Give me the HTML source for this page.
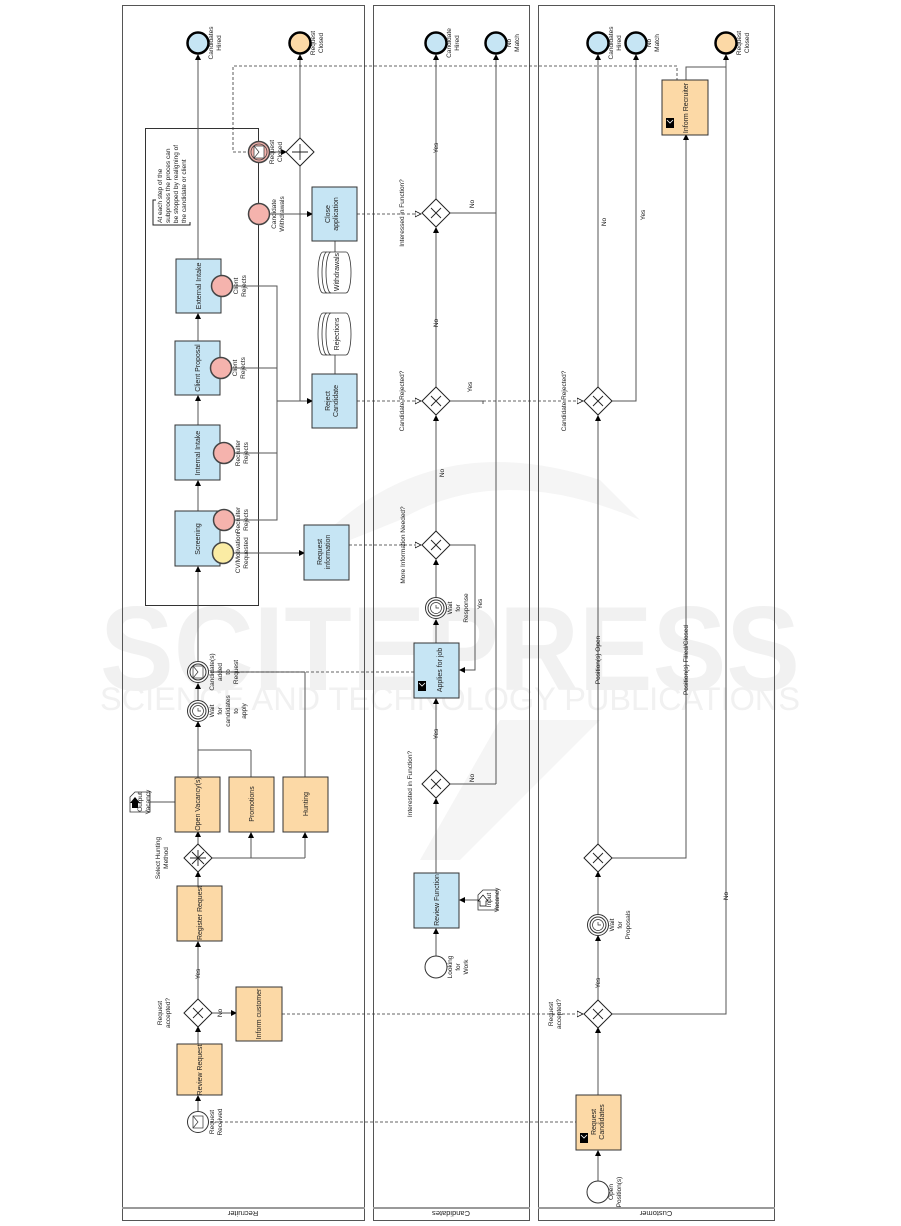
<!DOCTYPE html>
<html><head><meta charset="utf-8"><style>
html,body{margin:0;padding:0;background:#fff;}
svg{display:block;font-family:"Liberation Sans",Arial,sans-serif;}
</style></head><body>
<svg width="901" height="1226" viewBox="0 0 901 1226" xmlns="http://www.w3.org/2000/svg">
<defs>
<marker id="a" markerWidth="6" markerHeight="6" refX="5" refY="3" orient="auto" markerUnits="userSpaceOnUse"><path d="M0,0 L6,3 L0,6 Z" fill="#000"/></marker>
<marker id="o" markerWidth="7" markerHeight="7" refX="6" refY="3.5" orient="auto" markerUnits="userSpaceOnUse"><path d="M0,0.5 L6,3.5 L0,6.5 Z" fill="#fff" stroke="#000" stroke-width="0.7"/></marker>
</defs>
<rect width="901" height="1226" fill="#fff"/>
<!-- watermark -->
<g fill="#f1f1f1">
<text x="450" y="690" font-size="120" font-weight="bold" text-anchor="middle" textLength="700" lengthAdjust="spacingAndGlyphs">SCITEPRESS</text>
<text x="450" y="710" font-size="32" text-anchor="middle" textLength="700" lengthAdjust="spacingAndGlyphs">SCIENCE AND TECHNOLOGY PUBLICATIONS</text>
</g>
<path d="M300,560 Q420,420 600,480 L640,520 Q500,460 400,520 Z" fill="#f5f5f5"/>
<path d="M500,720 L600,720 L460,860 L420,860 Z" fill="#f5f5f5"/>

<!-- pools -->
<g fill="none" stroke="#555" stroke-width="1">
<rect x="122.5" y="5.5" width="242" height="1215"/>
<rect x="373.5" y="5.5" width="156" height="1215"/>
<rect x="538.5" y="5.5" width="236" height="1215"/>
<line x1="122" y1="1208" x2="365" y2="1208" stroke="#999" stroke-width="2"/>
<line x1="373" y1="1208" x2="530" y2="1208" stroke="#999" stroke-width="2"/>
<line x1="538" y1="1208" x2="775" y2="1208" stroke="#999" stroke-width="2"/>
</g>
<g font-size="7.5" fill="#222" text-anchor="middle">
<text transform="translate(243,1211) rotate(180)">Recruiter</text>
<text transform="translate(451,1211) rotate(180)">Candidates</text>
<text transform="translate(656,1211) rotate(180)">Customer</text>
</g>

<!-- subprocess -->
<rect x="145.5" y="128.5" width="113" height="477" fill="none" stroke="#333"/>
<path d="M156,200 L153,200 L153,225 L190,225 L190,222" fill="none" stroke="#222"/>
<g font-size="6.5" fill="#222"><text transform="translate(162,223) rotate(-90)"><tspan x="0" dy="0">At each step of the</tspan><tspan x="0" dy="8">subproces the proces can</tspan><tspan x="0" dy="8">be stopped by realigning of</tspan><tspan x="0" dy="8">the candidate or client</tspan></text></g>

<!-- connectors solid -->
<g fill="none" stroke="#555" stroke-width="1">
<line x1="198" y1="259" x2="198" y2="55" marker-end="url(#a)"/>
<line x1="198" y1="341" x2="198" y2="314" marker-end="url(#a)"/>
<line x1="198" y1="425" x2="198" y2="396" marker-end="url(#a)"/>
<line x1="198" y1="511" x2="198" y2="481" marker-end="url(#a)"/>
<line x1="198" y1="661" x2="198" y2="567" marker-end="url(#a)"/>
<line x1="198" y1="700" x2="198" y2="684" marker-end="url(#a)"/>
<line x1="198" y1="777" x2="198" y2="722" marker-end="url(#a)"/>
<line x1="251" y1="777" x2="251" y2="750"/><line x1="251" y1="750" x2="198" y2="750"/>
<line x1="305" y1="778" x2="305" y2="672"/><line x1="305" y1="672" x2="210" y2="672"/>
<line x1="198" y1="844" x2="198" y2="832" marker-end="url(#a)"/>
<line x1="212" y1="858" x2="305" y2="858"/>
<line x1="251" y1="858" x2="251" y2="833" marker-end="url(#a)"/>
<line x1="305" y1="858" x2="305" y2="833" marker-end="url(#a)"/>
<line x1="198" y1="886" x2="198" y2="872" marker-end="url(#a)"/>
<line x1="198" y1="999" x2="198" y2="942" marker-end="url(#a)"/>
<line x1="212" y1="1013" x2="236" y2="1013" marker-end="url(#a)"/>
<line x1="198" y1="1044" x2="198" y2="1027" marker-end="url(#a)"/>
<line x1="198" y1="1111" x2="198" y2="1096" marker-end="url(#a)"/>
<line x1="140" y1="802" x2="175" y2="802" marker-start="url(#a)"/>
<path d="M231,286 L277,286 L277,520 L234,520"/>
<line x1="231" y1="368" x2="277" y2="368"/>
<line x1="234" y1="453" x2="277" y2="453"/>
<line x1="277" y1="401" x2="312" y2="401" marker-end="url(#a)"/>
<line x1="300" y1="166" x2="300" y2="401"/>
<line x1="300" y1="138" x2="300" y2="55" marker-end="url(#a)"/>
<line x1="270" y1="152" x2="286" y2="152" marker-end="url(#a)"/>
<line x1="270" y1="214" x2="312" y2="214" marker-end="url(#a)"/>
<line x1="335" y1="241" x2="335" y2="252"/>
<line x1="335" y1="355" x2="335" y2="374"/>
<line x1="233" y1="553" x2="304" y2="553" marker-end="url(#a)"/>
<line x1="436" y1="199" x2="436" y2="55" marker-end="url(#a)"/>
<line x1="436" y1="387" x2="436" y2="228" marker-end="url(#a)"/>
<line x1="436" y1="531" x2="436" y2="416" marker-end="url(#a)"/>
<line x1="436" y1="597" x2="436" y2="560" marker-end="url(#a)"/>
<line x1="436" y1="643" x2="436" y2="620" marker-end="url(#a)"/>
<line x1="436" y1="770" x2="436" y2="699" marker-end="url(#a)"/>
<line x1="436" y1="873" x2="436" y2="799" marker-end="url(#a)"/>
<line x1="436" y1="956" x2="436" y2="929" marker-end="url(#a)"/>
<line x1="478" y1="900" x2="460" y2="900" marker-end="url(#a)"/>
<line x1="496" y1="784" x2="496" y2="55" marker-end="url(#a)"/>
<line x1="450" y1="784" x2="496" y2="784"/>
<line x1="450" y1="213" x2="496" y2="213"/>
<path d="M450,545 L475,545 L475,670 L460,670" marker-end="url(#a)"/>
<path d="M450,401 L483,401 L483,404"/>
<line x1="598" y1="387" x2="598" y2="55" marker-end="url(#a)"/>
<path d="M612,401 L636,401 L636,55" marker-end="url(#a)"/>
<line x1="598" y1="844" x2="598" y2="416" marker-end="url(#a)"/>
<line x1="598" y1="914" x2="598" y2="872" marker-end="url(#a)"/>
<line x1="598" y1="1000" x2="598" y2="936" marker-end="url(#a)"/>
<line x1="598" y1="1095" x2="598" y2="1028" marker-end="url(#a)"/>
<line x1="598" y1="1181" x2="598" y2="1151" marker-end="url(#a)"/>
<path d="M612,858 L686,858 L686,135" marker-end="url(#a)"/>
<path d="M612,1014 L726,1014 L726,55" marker-end="url(#a)"/>
<path d="M686,80 L686,67 L726,67"/>
</g>
<!-- dashed -->
<g fill="none" stroke="#333" stroke-width="0.8" stroke-dasharray="3,2">
<path d="M246,152 L233,152 L233,66 L677,66 L677,80"/>
<line x1="357" y1="214" x2="421" y2="214" marker-end="url(#o)"/>
<line x1="357" y1="401" x2="421" y2="401" marker-end="url(#o)"/>
<line x1="483" y1="401" x2="583" y2="401" marker-end="url(#o)"/>
<line x1="349" y1="545" x2="421" y2="545" marker-end="url(#o)"/>
<line x1="414" y1="672" x2="210" y2="672"/>
<line x1="282" y1="1014" x2="583" y2="1014" marker-end="url(#o)"/>
<line x1="210" y1="1122" x2="576" y2="1122"/>
</g>

<!-- boxes -->
<g stroke="#333" stroke-width="1">
<g fill="#c6e5f4">
<rect x="176" y="259" width="45" height="54"/>
<rect x="175" y="341" width="45" height="54"/>
<rect x="175" y="425" width="45" height="55"/>
<rect x="175" y="511" width="45" height="55"/>
<rect x="312" y="187" width="45" height="54"/>
<rect x="312" y="374" width="45" height="54"/>
<rect x="304" y="525" width="45" height="55"/>
<rect x="414" y="643" width="45" height="55"/>
<rect x="414" y="873" width="45" height="55"/>
</g>
<g fill="#fcd9a6">
<rect x="175" y="777" width="45" height="55"/>
<rect x="229" y="777" width="45" height="55"/>
<rect x="283" y="777" width="45" height="55"/>
<rect x="177" y="886" width="45" height="55"/>
<rect x="236" y="987" width="46" height="54"/>
<rect x="177" y="1044" width="45" height="51"/>
<rect x="662" y="80" width="46" height="55"/>
<rect x="576" y="1095" width="45" height="55"/>
</g>
</g>
<g fill="#000"><rect x="418" y="681" width="8" height="10"/><rect x="666" y="118" width="8" height="10"/><rect x="580" y="1133" width="8" height="10"/></g>
<g stroke="#fff" fill="none" stroke-width="0.8"><path d="M419,683 L422,686 L425,683"/><path d="M667,120 L670,123 L673,120"/><path d="M581,1135 L584,1138 L587,1135"/></g>

<!-- datastores -->
<g fill="#fff" stroke="#333" stroke-width="0.8">
<path d="M323,252 L346,252 A5,20.5 0 0 1 346,293 L323,293 A5,20.5 0 0 1 323,252 Z"/>
<path d="M327,252 A5,20.5 0 0 0 327,293 M331,252 A5,20.5 0 0 0 331,293"/>
<path d="M323,313 L346,313 A5,21 0 0 1 346,355 L323,355 A5,21 0 0 1 323,313 Z"/>
<path d="M327,313 A5,21 0 0 0 327,355 M331,313 A5,21 0 0 0 331,355"/>
</g>

<!-- docs -->
<g fill="#fff" stroke="#333" stroke-width="0.8">
<path d="M130,797 L135,792 L150,792 L150,812 L130,812 Z"/>
<path d="M478,895 L483,890 L497,890 L497,910 L478,910 Z"/>
</g>
<path d="M132,808 L132,803 L130,803 L135,797 L140,803 L138,803 L138,808 Z" fill="#000"/>
<path d="M480,906 L480,901 L478,901 L483,895 L488,901 L486,901 L486,906 Z" fill="#fff" stroke="#000" stroke-width="0.7"/>

<!-- gateways -->
<g fill="#fff" stroke="#222" stroke-width="1">
<polygon points="300,138 314,152 300,166 286,152"/>
<polygon points="436,199 450,213 436,227 422,213"/>
<polygon points="436,387 450,401 436,415 422,401"/>
<polygon points="436,531 450,545 436,559 422,545"/>
<polygon points="436,770 450,784 436,798 422,784"/>
<polygon points="598,387 612,401 598,415 584,401"/>
<polygon points="598,844 612,858 598,872 584,858"/>
<polygon points="598,1000 612,1014 598,1028 584,1014"/>
<polygon points="198,844 212,858 198,872 184,858"/>
<polygon points="198,999 212,1013 198,1027 184,1013"/>
</g>
<g stroke="#222" stroke-width="0.9" fill="none">
<path d="M300,144 V160 M292,152 H308"/>
<path d="M431,208 L441,218 M441,208 L431,218"/>
<path d="M431,396 L441,406 M441,396 L431,406"/>
<path d="M431,540 L441,550 M441,540 L431,550"/>
<path d="M431,779 L441,789 M441,779 L431,789"/>
<path d="M593,396 L603,406 M603,396 L593,406"/>
<path d="M593,853 L603,863 M603,853 L593,863"/>
<path d="M593,1009 L603,1019 M603,1009 L593,1019"/>
<path d="M193,1008 L203,1018 M203,1008 L193,1018"/>
<path d="M198,850 V866 M190,858 H206 M192,852 L204,864 M204,852 L192,864"/>
</g>

<!-- end events -->
<g stroke="#000" stroke-width="2.5">
<circle cx="198" cy="43" r="10.5" fill="#c6e5f4"/>
<circle cx="300" cy="43" r="10.5" fill="#fcd9a6"/>
<circle cx="436" cy="43" r="10.5" fill="#c6e5f4"/>
<circle cx="496" cy="43" r="10.5" fill="#c6e5f4"/>
<circle cx="598" cy="43" r="10.5" fill="#c6e5f4"/>
<circle cx="636" cy="43" r="10.5" fill="#c6e5f4"/>
<circle cx="726" cy="43" r="10.5" fill="#fcd9a6"/>
</g>
<g stroke="#444" stroke-width="1.5" fill="#f5b3ad">
<circle cx="259" cy="214" r="10.5"/>
<circle cx="222" cy="286" r="10.5"/>
<circle cx="221" cy="368" r="10.5"/>
<circle cx="224" cy="453" r="10.5"/>
<circle cx="224" cy="520" r="10.5"/>
<circle cx="259" cy="152" r="10.5"/>
</g>
<circle cx="223" cy="553" r="10.5" fill="#fbeca4" stroke="#444" stroke-width="1.5"/>
<circle cx="259" cy="152" r="8" fill="none" stroke="#444" stroke-width="0.8"/>
<rect x="254" y="146" width="10" height="12" fill="#fff" stroke="#333" stroke-width="0.7"/><path d="M254,146 L259,152 L254,158" fill="none" stroke="#333" stroke-width="0.7"/>
<g fill="#fff" stroke="#333" stroke-width="1">
<circle cx="198" cy="1122" r="10.5"/>
<circle cx="436" cy="967" r="11"/>
<circle cx="598" cy="1192" r="11"/>
<circle cx="198" cy="672" r="10.5"/><circle cx="198" cy="672" r="8"/>
<circle cx="198" cy="711" r="10.5"/><circle cx="198" cy="711" r="8"/>
<circle cx="436" cy="608" r="10.5"/><circle cx="436" cy="608" r="8"/>
<circle cx="598" cy="925" r="10.5"/><circle cx="598" cy="925" r="8"/>
</g>
<g fill="#fff" stroke="#333" stroke-width="0.7">
<rect x="193" y="1116" width="10" height="12"/><path d="M193,1116 L198,1122 L193,1128" fill="none"/>
<rect x="193" y="666" width="10" height="12"/><path d="M193,666 L198,672 L193,678" fill="none"/>
<circle cx="198" cy="711" r="5.5"/><circle cx="436" cy="608" r="5.5"/><circle cx="598" cy="925" r="5.5"/>
<path d="M198,708 V711 H201 M436,605 V608 H439 M598,922 V925 H601" fill="none"/>
</g>

<!-- labels -->
<g font-size="7" fill="#222" text-anchor="middle">
<text transform="translate(201,286) rotate(-90)">External Intake</text>
<text transform="translate(200,368) rotate(-90)">Client Proposal</text>
<text transform="translate(200,453) rotate(-90)">Internal Intake</text>
<text transform="translate(200,539) rotate(-90)">Screening</text>
<text transform="translate(332,214) rotate(-90)"><tspan x="0" dy="-2">Close</tspan><tspan x="0" dy="8">application</tspan></text>
<text transform="translate(332,401) rotate(-90)"><tspan x="0" dy="-2">Reject</tspan><tspan x="0" dy="8">Candidate</tspan></text>
<text transform="translate(324,552) rotate(-90)"><tspan x="0" dy="-2">Request</tspan><tspan x="0" dy="8">information</tspan></text>
<text transform="translate(339,272) rotate(-90)">Withdrawals</text>
<text transform="translate(339,334) rotate(-90)">Rejections</text>
<text transform="translate(200,804) rotate(-90)">Open Vacancy(s)</text>
<text transform="translate(254,804) rotate(-90)">Promotions</text>
<text transform="translate(308,804) rotate(-90)">Hunting</text>
<text transform="translate(202,913) rotate(-90)">Register Request</text>
<text transform="translate(261,1014) rotate(-90)">Inform customer</text>
<text transform="translate(202,1070) rotate(-90)">Review Request</text>
<text transform="translate(442,670) rotate(-90)">Applies for job</text>
<text transform="translate(439,900) rotate(-90)">Review Function</text>
<text transform="translate(688,108) rotate(-90)">Inform Recruiter</text>
<text transform="translate(598,1122) rotate(-90)"><tspan x="0" dy="-2">Request</tspan><tspan x="0" dy="8">Candidates</tspan></text>
</g>
<g font-size="6.5" fill="#222" text-anchor="middle">
<text transform="translate(213,43) rotate(-90)"><tspan x="0">Candidates</tspan><tspan x="0" dy="8">Hired</tspan></text>
<text transform="translate(315,43) rotate(-90)"><tspan x="0">Request</tspan><tspan x="0" dy="8">Closed</tspan></text>
<text transform="translate(451,43) rotate(-90)"><tspan x="0">Candidate</tspan><tspan x="0" dy="8">Hired</tspan></text>
<text transform="translate(511,43) rotate(-90)"><tspan x="0">No</tspan><tspan x="0" dy="8">Match</tspan></text>
<text transform="translate(613,43) rotate(-90)"><tspan x="0">Candidates</tspan><tspan x="0" dy="8">Hired</tspan></text>
<text transform="translate(651,43) rotate(-90)"><tspan x="0">No</tspan><tspan x="0" dy="8">Match</tspan></text>
<text transform="translate(741,43) rotate(-90)"><tspan x="0">Request</tspan><tspan x="0" dy="8">Closed</tspan></text>
<text transform="translate(274,152) rotate(-90)"><tspan x="0">Request</tspan><tspan x="0" dy="8">Closed</tspan></text>
<text transform="translate(276,214) rotate(-90)"><tspan x="0">Candidate</tspan><tspan x="0" dy="8">Withdrawals</tspan></text>
<text transform="translate(238,286) rotate(-90)"><tspan x="0">Client</tspan><tspan x="0" dy="8">Rejects</tspan></text>
<text transform="translate(237,368) rotate(-90)"><tspan x="0">Client</tspan><tspan x="0" dy="8">Rejects</tspan></text>
<text transform="translate(240,453) rotate(-90)"><tspan x="0">Recruiter</tspan><tspan x="0" dy="8">Rejects</tspan></text>
<text transform="translate(240,520) rotate(-90)"><tspan x="0">Recruiter</tspan><tspan x="0" dy="8">Rejects</tspan></text>
<text transform="translate(240,553) rotate(-90)"><tspan x="0">CV/Motivation</tspan><tspan x="0" dy="8">Requested</tspan></text>
<text transform="translate(214,672) rotate(-90)"><tspan x="0">Candidate(s)</tspan><tspan x="0" dy="8">added</tspan><tspan x="0" dy="8">to</tspan><tspan x="0" dy="8">Request</tspan></text>
<text transform="translate(214,711) rotate(-90)"><tspan x="0">Wait</tspan><tspan x="0" dy="8">for</tspan><tspan x="0" dy="8">candidates</tspan><tspan x="0" dy="8">to</tspan><tspan x="0" dy="8">apply</tspan></text>
<text transform="translate(142,802) rotate(-90)"><tspan x="0">Output</tspan><tspan x="0" dy="8">Vacancy</tspan></text>
<text transform="translate(491,900) rotate(-90)"><tspan x="0">Input</tspan><tspan x="0" dy="8">Vacancy</tspan></text>
<text transform="translate(160,858) rotate(-90)"><tspan x="0">Select Hunting</tspan><tspan x="0" dy="8">Method</tspan></text>
<text transform="translate(162,1013) rotate(-90)"><tspan x="0">Request</tspan><tspan x="0" dy="8">accepted?</tspan></text>
<text transform="translate(214,1122) rotate(-90)"><tspan x="0">Request</tspan><tspan x="0" dy="8">Received</tspan></text>
<text transform="translate(452,608) rotate(-90)"><tspan x="0">Wait</tspan><tspan x="0" dy="8">for</tspan><tspan x="0" dy="8">Response</tspan></text>
<text transform="translate(452,967) rotate(-90)"><tspan x="0">Looking</tspan><tspan x="0" dy="8">for</tspan><tspan x="0" dy="8">Work</tspan></text>
<text transform="translate(614,925) rotate(-90)"><tspan x="0">Wait</tspan><tspan x="0" dy="8">for</tspan><tspan x="0" dy="8">Proposals</tspan></text>
<text transform="translate(613,1192) rotate(-90)"><tspan x="0">Open</tspan><tspan x="0" dy="8">Position(s)</tspan></text>
<text transform="translate(553,1014) rotate(-90)"><tspan x="0">Request</tspan><tspan x="0" dy="8">accepted?</tspan></text>
<text transform="translate(404,213) rotate(-90)">Interessed in Function?</text>
<text transform="translate(404,401) rotate(-90)">Candidate Rejected?</text>
<text transform="translate(405,545) rotate(-90)">More Information Needed?</text>
<text transform="translate(412,784) rotate(-90)">Interested in Function?</text>
<text transform="translate(566,401) rotate(-90)">Candidate Rejected?</text>
<text transform="translate(600,660) rotate(-90)">Position(s) Open</text>
<text transform="translate(688,660) rotate(-90)">Position(s) Filled/Closed</text>
<text transform="translate(200,974) rotate(-90)">Yes</text>
<text transform="translate(222,1013) rotate(-90)">No</text>
<text transform="translate(438,148) rotate(-90)">Yes</text>
<text transform="translate(474,204) rotate(-90)">No</text>
<text transform="translate(438,323) rotate(-90)">No</text>
<text transform="translate(472,387) rotate(-90)">Yes</text>
<text transform="translate(444,473) rotate(-90)">No</text>
<text transform="translate(482,604) rotate(-90)">Yes</text>
<text transform="translate(438,734) rotate(-90)">Yes</text>
<text transform="translate(474,778) rotate(-90)">No</text>
<text transform="translate(606,222) rotate(-90)">No</text>
<text transform="translate(645,215) rotate(-90)">Yes</text>
<text transform="translate(600,983) rotate(-90)">Yes</text>
<text transform="translate(728,896) rotate(-90)">No</text>
</g>
</svg>
</body></html>
